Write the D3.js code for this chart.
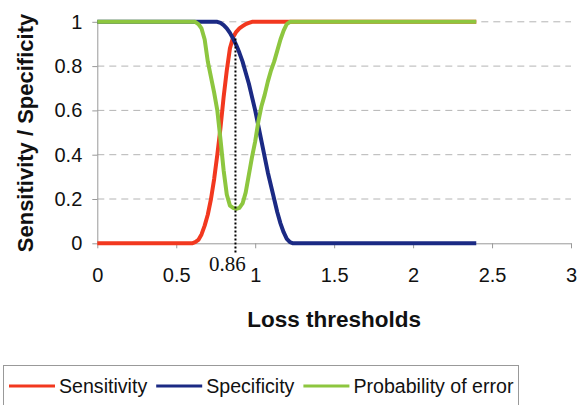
<!DOCTYPE html>
<html>
<head>
<meta charset="utf-8">
<script src="https://cdn.jsdelivr.net/npm/d3@7"></script>
<style>
  body { margin: 0; background: #fff; }
  svg { display: block; font-family: "Liberation Sans", Arial, sans-serif; }
</style>
</head>
<body>
<div id="chart"></div>
<script>
// loss thresholds (x) that the curves are sampled at
const thresholds = [0, 0.60, 0.62, 0.64, 0.66, 0.68, 0.70, 0.72, 0.74, 0.76, 0.78, 0.80,
  0.82, 0.84, 0.86, 0.88, 0.90, 0.92, 0.94, 0.96, 0.98, 1.00, 1.02, 1.04, 1.06, 1.08,
  1.10, 1.12, 1.14, 1.16, 1.18, 1.20, 1.22, 1.24, 1.26, 1.28, 1.30, 2.40];

const sensitivity = [0, 0, 0.005, 0.015, 0.04, 0.08, 0.13, 0.20, 0.29, 0.40, 0.52, 0.66,
  0.78, 0.88, 0.93, 0.955, 0.97, 0.98, 0.99, 0.995, 1, 1, 1, 1, 1, 1,
  1, 1, 1, 1, 1, 1, 1, 1, 1, 1, 1, 1];

const specificity = [1, 1, 1, 1, 1, 1, 1, 1, 1, 1, 0.995, 0.985,
  0.97, 0.95, 0.925, 0.895, 0.86, 0.82, 0.77, 0.72, 0.66, 0.60, 0.53, 0.46, 0.39, 0.32,
  0.26, 0.20, 0.14, 0.09, 0.05, 0.02, 0.005, 0, 0, 0, 0, 0];

const probError = [1, 1, 1, 0.99, 0.97, 0.92, 0.82, 0.75, 0.68, 0.60, 0.47, 0.33,
  0.22, 0.17, 0.16, 0.155, 0.16, 0.18, 0.23, 0.31, 0.39, 0.46, 0.55, 0.62, 0.67, 0.73,
  0.78, 0.82, 0.87, 0.92, 0.96, 0.99, 1, 1, 1, 1, 1, 1];

const seriesNames = ["Sensitivity", "Specificity", "Probability of error"];
const xTicks = [0, 0.5, 1, 1.5, 2, 2.5, 3];
const yTicks = [0, 0.2, 0.4, 0.6, 0.8, 1];

// the marked optimum threshold
const markX = 0.875;
const markTop = 0.925;
const markLabel = "0.86";

const sansFont = "'Liberation Sans', Arial, sans-serif";

function drawChart(containerSelector) {
  var margin = {top: 21.8, right: 14, bottom: 161.7, left: 97.3},
    width = 585 - margin.left - margin.right,
    height = 405 - margin.top - margin.bottom;

  let svg = d3.select(containerSelector).append("svg")
    .attr("width", 585)
    .attr("height", 405);

  let g = svg.append("g")
    .attr("transform", "translate(" + margin.left + "," + margin.top + ")");

  var x = d3.scaleLinear().domain([0, 3]).range([0, width]);
  var y = d3.scaleLinear().domain([0, 1]).range([height, 0]);

  // dashed horizontal gridlines
  g.selectAll(".grid")
    .data(yTicks.filter(d => d > 0))
    .enter().append("line")
      .attr("x1", 0)
      .attr("x2", width)
      .attr("y1", d => y(d))
      .attr("y2", d => y(d))
      .attr("stroke", "#b4b4b4")
      .attr("stroke-width", 1)
      .attr("stroke-dasharray", "7,5");

  // x axis
  let xAxis = g.append("g")
    .attr("transform", "translate(0," + height + ")")
    .call(d3.axisBottom(x).tickValues(xTicks).tickFormat(d3.format("~g"))
      .tickSizeInner(5).tickSizeOuter(0).tickPadding(20));
  xAxis.select(".domain").attr("stroke", "#999");
  xAxis.selectAll(".tick line").attr("stroke", "#999");
  xAxis.selectAll("text").attr("font-size", 20).attr("fill", "#111")
    .attr("font-family", sansFont);

  // y axis
  let yAxis = g.append("g")
    .call(d3.axisLeft(y).tickValues(yTicks).tickFormat(d3.format("~g"))
      .tickSizeInner(5).tickSizeOuter(0).tickPadding(10));
  yAxis.select(".domain").attr("stroke", "#999");
  yAxis.selectAll(".tick line").attr("stroke", "#999");
  yAxis.selectAll("text").attr("font-size", 20).attr("fill", "#111")
    .attr("font-family", sansFont);

  // curves
  let colors = ["#f2381f", "#1b2a84", "#8dc63f"];
  let values = [sensitivity, specificity, probError];

  let line = d3.line()
    .x(d => x(d[0]))
    .y(d => y(d[1]));

  // red first, then blue, green on top (as in the original)
  [0, 1, 2].forEach(i => {
    let pts = thresholds.map((t, k) => [t, values[i][k]]);
    g.append("path")
      .datum(pts)
      .attr("fill", "none")
      .attr("stroke", colors[i])
      .attr("stroke-width", 4)
      .attr("stroke-linejoin", "round")
      .attr("d", line);
  });

  // dotted marker line at the chosen threshold
  g.append("line")
    .attr("x1", x(markX)).attr("x2", x(markX))
    .attr("y1", y(markTop)).attr("y2", height + 11)
    .attr("stroke", "#000")
    .attr("stroke-width", 2)
    .attr("stroke-dasharray", "2,2");

  g.append("text")
    .attr("x", x(markX) - 8)
    .attr("y", height + 28)
    .attr("text-anchor", "middle")
    .attr("font-family", "'Liberation Serif', 'Times New Roman', serif")
    .attr("font-size", 21)
    .attr("fill", "#111")
    .text(markLabel);

  // axis titles
  svg.append("text")
    .attr("transform", "translate(25," + 133 + ") rotate(-90)")
    .attr("dy", "0.35em")
    .attr("text-anchor", "middle")
    .attr("font-family", sansFont)
    .attr("font-weight", "bold")
    .attr("font-size", 22)
    .attr("fill", "#111")
    .text("Sensitivity / Specificity");

  svg.append("text")
    .attr("x", margin.left + width / 2)
    .attr("y", 326.5)
    .attr("text-anchor", "middle")
    .attr("font-family", sansFont)
    .attr("font-weight", "bold")
    .attr("font-size", 22.5)
    .attr("fill", "#111")
    .text("Loss thresholds");

  // legend box (bottom is cut off by the picture edge)
  svg.append("rect")
    .attr("x", 3.5).attr("y", 365.5)
    .attr("width", 515).attr("height", 50)
    .attr("fill", "#fff")
    .attr("stroke", "#999");

  let lx = 9;
  seriesNames.forEach((name, i) => {
    svg.append("line")
      .attr("x1", lx).attr("x2", lx + 46)
      .attr("y1", 386).attr("y2", 386)
      .attr("stroke", colors[i])
      .attr("stroke-width", 3);
    let t = svg.append("text")
      .attr("x", lx + 50)
      .attr("y", 386)
      .attr("dy", "0.35em")
      .attr("font-family", sansFont)
      .attr("font-size", 19.6)
      .attr("fill", "#111")
      .text(name);
    lx += 50 + t.node().getComputedTextLength() + 9;
  });
}

drawChart("#chart");
</script>
</body>
</html>
